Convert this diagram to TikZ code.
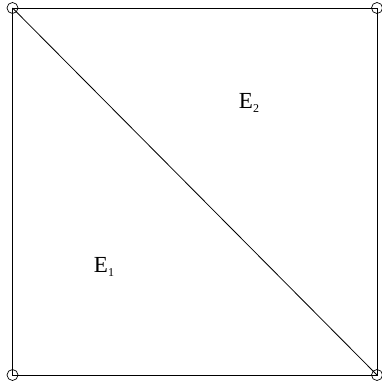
\documentclass[tikz,border=0pt]{standalone}
\usepackage{fontspec}
\setmainfont{Liberation Serif}
\usetikzlibrary{positioning}
\tikzset{
  edge/.style   ={draw=black, line width=0.8pt},
  vertex/.style ={draw=black, line width=0.7pt, fill=none},
  elem/.style   ={font=\fontsize{23}{25}\selectfont, text=black, inner sep=0pt},
}
\newcommand{\elsub}[1]{\raisebox{-0.35ex}{\fontsize{12}{12}\selectfont #1}}

\begin{document}
\begin{tikzpicture}[x=1pt, y=-1pt]

  % ---- page frame (reference size) ----
  \useasboundingbox (0,0) rectangle (381,385);

  % ---- corner vertices ----
  \coordinate (tl) at (12.5,8);
  \coordinate (tr) at (377,8);
  \coordinate (bl) at (12.5,375);
  \coordinate (br) at (377,375);

  % ---- square and diagonal ----
  \draw[edge] (tl) -- (tr) -- (br) -- (bl) -- cycle;
  \draw[edge] (tl) -- (br);

  % ---- vertex markers ----
  \foreach \v in {tl,tr,bl,br}
    \draw[vertex] (\v) circle[radius=5.5];

  % ---- element labels ----
  \node[elem] (e1) at (104,267) {E\elsub{1}};
  \node[elem] (e2) at (249,103) {E\elsub{2}};

\end{tikzpicture}
\end{document}
